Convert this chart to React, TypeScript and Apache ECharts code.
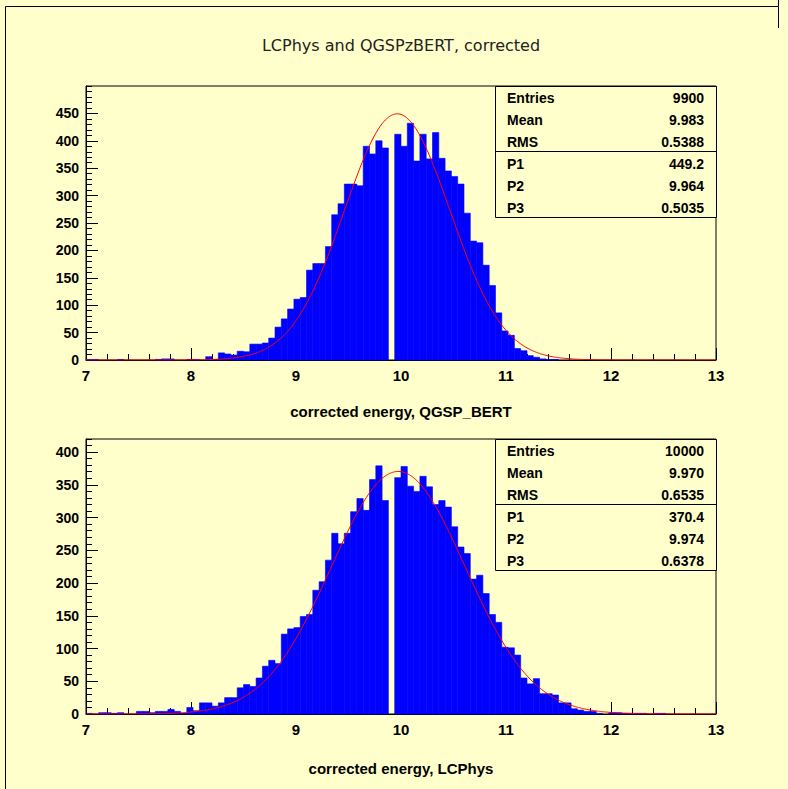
import React, { useEffect, useRef } from "react";
import * as echarts from "echarts";

// Histogram binning: 100 bins from 7 to 13
const BIN_LO = 7;
const BIN_HI = 13;
const NBINS = 100;

// Top pad: corrected energy, QGSP_BERT
const qgspCounts = [
  1, 1, 0, 0, 0, 1, 0, 0, 0, 0,
  0, 1, 2, 2, 0, 0, 1, 1, 0, 6,
  1, 13, 11, 9, 16, 15, 29, 29, 31, 40,
  60, 75, 93, 111, 114, 164, 176, 176, 207, 265,
  285, 321, 321, 318, 390, 376, 400, 387, 0, 412,
  390, 432, 363, 412, 367, 415, 368, 345, 335, 321,
  268, 217, 214, 173, 136, 86, 53, 45, 21, 17,
  8, 5, 2, 1, 1, 0, 0, 0, 0, 0,
  0, 0, 0, 0, 0, 0, 0, 0, 0, 0,
  0, 0, 0, 0, 0, 0, 0, 0, 0, 0,
];

// Bottom pad: corrected energy, LCPhys
const lcCounts = [
  1, 0, 2, 2, 1, 2, 0, 0, 4, 4,
  2, 4, 4, 7, 4, 1, 10, 5, 17, 17,
  12, 17, 25, 25, 40, 45, 42, 55, 73, 82,
  77, 122, 130, 132, 149, 152, 189, 202, 235, 276,
  260, 276, 309, 329, 311, 358, 379, 326, 0, 361,
  378, 348, 340, 363, 347, 320, 326, 316, 286, 255,
  245, 206, 212, 184, 152, 140, 102, 101, 90, 55,
  46, 54, 31, 31, 29, 17, 17, 8, 6, 4,
  4, 1, 0, 2, 2, 1, 1, 1, 1, 0,
  1, 1, 0, 0, 0, 0, 0, 0, 0, 0,
];

const xTickLabels = [7, 8, 9, 10, 11, 12, 13];

const qgspStats = [["Entries", "9900"], ["Mean", "9.983"], ["RMS", "0.5388"]];
const qgspFitRows = [["P1", "449.2"], ["P2", "9.964"], ["P3", "0.5035"]];
const qgspFit = { p1: 449.2, p2: 9.964, p3: 0.5035 };

const lcStats = [["Entries", "10000"], ["Mean", "9.970"], ["RMS", "0.6535"]];
const lcFitRows = [["P1", "370.4"], ["P2", "9.974"], ["P3", "0.6378"]];
const lcFit = { p1: 370.4, p2: 9.974, p3: 0.6378 };

const title = "LCPhys and QGSPzBERT, corrected";
const xTitleTop = "corrected energy, QGSP_BERT";
const xTitleBottom = "corrected energy, LCPhys";

const BG = "#ffffcc";
const FONT = "'Liberation Sans', Arial, sans-serif";

function binData(counts: number[]) {
  const w = (BIN_HI - BIN_LO) / NBINS;
  return counts.map((c, i) => [BIN_LO + i * w, BIN_LO + (i + 1) * w, c]);
}

function gaussData(f: { p1: number; p2: number; p3: number }) {
  const pts: number[][] = [];
  const n = 600;
  for (let i = 0; i <= n; i++) {
    const x = BIN_LO + ((BIN_HI - BIN_LO) * i) / n;
    const z = (x - f.p2) / f.p3;
    pts.push([x, f.p1 * Math.exp(-0.5 * z * z)]);
  }
  return pts;
}

function statsBox(x: number, y: number, w: number, rows1: string[][], rows2: string[][]) {
  const rowH = 22;
  const h = rowH * 6 - 1;
  const children: any[] = [
    {
      type: "rect",
      shape: { x: x + 0.5, y: y + 0.5, width: w, height: h },
      style: { fill: BG, stroke: "#000", lineWidth: 1 },
    },
    {
      type: "line",
      shape: { x1: x + 0.5, y1: y + 0.5 + rowH * 3 - 1, x2: x + 0.5 + w, y2: y + 0.5 + rowH * 3 - 1 },
      style: { stroke: "#000", lineWidth: 1 },
    },
  ];
  const all = [...rows1, ...rows2];
  all.forEach((r, i) => {
    const cy = y + 11.5 + i * rowH;
    children.push({
      type: "text",
      x: x + 12,
      y: cy,
      style: { text: r[0], fill: "#000", font: `bold 14px ${FONT}`, textAlign: "left", textVerticalAlign: "middle" },
    });
    children.push({
      type: "text",
      x: x + w - 12,
      y: cy,
      style: { text: r[1], fill: "#000", font: `bold 14px ${FONT}`, textAlign: "right", textVerticalAlign: "middle" },
    });
  });
  return { type: "group", z: 100, children };
}

const barRender = (params: any, api: any) => {
  const x0 = api.value(0);
  const x1 = api.value(1);
  const y = api.value(2);
  if (!y) return null;
  const p0 = api.coord([x0, y]);
  const p1 = api.coord([x1, 0]);
  return {
    type: "rect",
    shape: { x: p0[0], y: p0[1], width: p1[0] - p0[0], height: p1[1] - p0[1] },
    style: { fill: "#0000ff", stroke: "#0000ff", lineWidth: 0.6 },
  };
};

function xAxisCfg(gridIndex: number, name: string, nameGap: number) {
  return {
    type: "value",
    gridIndex,
    min: xTickLabels[0],
    max: xTickLabels[xTickLabels.length - 1],
    interval: 1,
    name,
    nameLocation: "middle",
    nameGap,
    nameTextStyle: { fontFamily: FONT, fontWeight: "bold", fontSize: 15, color: "#000" },
    axisLine: { show: true, lineStyle: { color: "#000", width: 1 } },
    axisTick: { show: true, inside: true, length: 12, lineStyle: { color: "#000" } },
    minorTick: { show: true, splitNumber: 5, length: 6, lineStyle: { color: "#000" } },
    splitLine: { show: false },
    minorSplitLine: { show: false },
    axisLabel: { fontFamily: FONT, fontWeight: "bold", fontSize: 15, color: "#000", margin: 8 },
  };
}

function yAxisMajor(gridIndex: number, max: number) {
  return {
    type: "value",
    gridIndex,
    position: "left",
    min: 0,
    max,
    interval: 50,
    axisLine: { show: true, lineStyle: { color: "#000", width: 1 } },
    axisTick: { show: true, inside: true, length: 12, lineStyle: { color: "#000" } },
    splitLine: { show: false },
    axisLabel: { fontFamily: FONT, fontWeight: "bold", fontSize: 14, color: "#000", margin: 7, showMaxLabel: false },
  };
}

function yAxisMinor(gridIndex: number, max: number) {
  return {
    type: "value",
    gridIndex,
    position: "left",
    offset: 0,
    min: 0,
    max,
    interval: 10,
    axisLine: { show: false },
    axisTick: { show: true, inside: true, length: 6, lineStyle: { color: "#000" } },
    splitLine: { show: false },
    axisLabel: { show: false },
  };
}

export default function App() {
  const ref = useRef<HTMLDivElement>(null);
  useEffect(() => {
    if (!ref.current) return;
    const chart = echarts.init(ref.current, null, { renderer: "svg" });
    const option: any = {
      animation: false,
      backgroundColor: BG,
      grid: [
        { left: 86, top: 86, width: 630, height: 274, show: true, borderColor: "#000", borderWidth: 1, backgroundColor: "transparent" },
        { left: 86, top: 439, width: 630, height: 275, show: true, borderColor: "#000", borderWidth: 1, backgroundColor: "transparent" },
      ],
      xAxis: [xAxisCfg(0, xTitleTop, 44), xAxisCfg(1, xTitleBottom, 47)],
      yAxis: [yAxisMajor(0, 500), yAxisMinor(0, 500), yAxisMajor(1, 420), yAxisMinor(1, 420)],
      series: [
        {
          type: "custom",
          xAxisIndex: 0,
          yAxisIndex: 0,
          renderItem: barRender,
          encode: { x: [0, 1], y: 2 },
          data: binData(qgspCounts),
        },
        {
          type: "line",
          xAxisIndex: 0,
          yAxisIndex: 0,
          showSymbol: false,
          symbol: "none",
          lineStyle: { color: "#ff0000", width: 1 },
          data: gaussData(qgspFit),
          z: 3,
        },
        {
          type: "custom",
          xAxisIndex: 1,
          yAxisIndex: 2,
          renderItem: barRender,
          encode: { x: [0, 1], y: 2 },
          data: binData(lcCounts),
        },
        {
          type: "line",
          xAxisIndex: 1,
          yAxisIndex: 2,
          showSymbol: false,
          symbol: "none",
          lineStyle: { color: "#ff0000", width: 1 },
          data: gaussData(lcFit),
          z: 3,
        },
      ],
      graphic: [
        {
          type: "polyline",
          z: 50,
          silent: true,
          shape: { points: [[5.5, 800], [5.5, 6.5], [778.5, 6.5], [778.5, 0]] },
          style: { fill: "none", stroke: "#000", lineWidth: 1 },
        },
        {
          type: "line",
          z: 50,
          silent: true,
          shape: { x1: 778.5, y1: 6.5, x2: 778.5, y2: 28 },
          style: { stroke: "#000", lineWidth: 1 },
        },
        {
          type: "text",
          z: 50,
          x: 401,
          y: 45,
          style: {
            text: title,
            fill: "#222",
            font: `normal 16px 'DejaVu Sans', sans-serif`,
            textAlign: "center",
            textVerticalAlign: "middle",
          },
        },
        statsBox(495, 86, 221, qgspStats, qgspFitRows),
        statsBox(495, 439, 221, lcStats, lcFitRows),
      ],
    };
    chart.setOption(option);
    return () => chart.dispose();
  }, []);
  return <div ref={ref} style={{ position: "fixed", left: 0, top: 0, width: 788, height: 789 }} />;
}
